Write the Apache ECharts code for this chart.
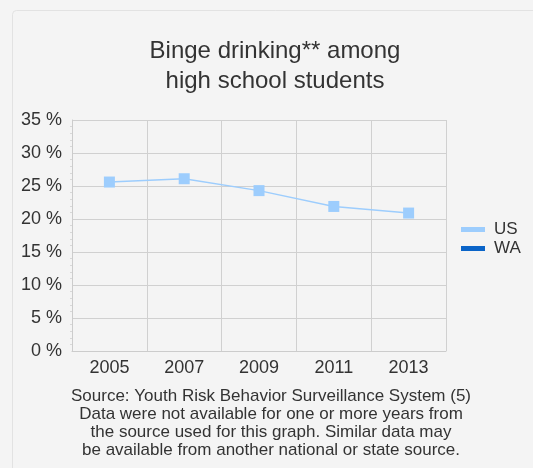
<!DOCTYPE html>
<html>
<head>
<meta charset="utf-8">
<script src="https://cdn.jsdelivr.net/npm/echarts@6/dist/echarts.min.js"></script>
<style>
  html, body { margin: 0; padding: 0; background: #f4f4f4; }
  #chart { width: 533px; height: 468px; }
</style>
</head>
<body>
<div id="chart"></div>
<script>
var years = ['2005', '2007', '2009', '2011', '2013'];
var usValues = [25.6, 26.1, 24.3, 21.9, 20.9];
var waValues = [null, null, null, null, null];
var sourceLines = [
  'Source: Youth Risk Behavior Surveillance System (5)',
  'Data were not available for one or more years from',
  'the source used for this graph. Similar data may',
  'be available from another national or state source.'
];

var font = 'Liberation Sans, Arial, sans-serif';
var chart = echarts.init(document.getElementById('chart'));
chart.setOption({
  backgroundColor: '#f4f4f4',
  textStyle: { fontFamily: font },
  graphic: [
    {
      type: 'rect',
      z: -10,
      shape: { x: 12.5, y: 10.5, width: 560, height: 500, r: 4 },
      style: { fill: '#f4f4f4', stroke: '#e2e2e2', lineWidth: 1 }
    }
  ],
  title: [
    {
      text: 'Binge drinking** among\nhigh school students',
      left: 270,
      textAlign: 'center',
      top: 31,
      textStyle: {
        fontSize: 24,
        fontWeight: 'normal',
        color: '#333',
        lineHeight: 30,
        fontFamily: font
      }
    },
    {
      text: sourceLines.join('\n'),
      left: 266,
      textAlign: 'center',
      top: 382,
      textStyle: {
        fontSize: 17,
        fontWeight: 'normal',
        color: '#333',
        lineHeight: 18,
        fontFamily: font
      }
    }
  ],
  legend: {
    orient: 'vertical',
    left: 456,
    top: 216,
    itemWidth: 24,
    itemHeight: 5,
    itemGap: 2,
    icon: 'rect',
    textStyle: { fontSize: 17, color: '#333', padding: [0, 0, 0, 4] },
    data: ['US', 'WA']
  },
  grid: { left: 72, top: 120, width: 374, height: 231, containLabel: false },
  xAxis: {
    type: 'category',
    data: years,
    boundaryGap: true,
    axisLine: { lineStyle: { color: '#cccccc' } },
    axisTick: { show: false },
    splitLine: { show: true, lineStyle: { color: '#d0d0d0', width: 1 } },
    axisLabel: { color: '#333', fontSize: 18, margin: 8 }
  },
  yAxis: {
    type: 'value',
    min: 0,
    max: 35,
    interval: 5,
    axisLine: { show: true, lineStyle: { color: '#cccccc' } },
    axisTick: { show: false },
    minorTick: { show: true, splitNumber: 5, length: 2, lineStyle: { color: '#d8d8d8' } },
    splitLine: { lineStyle: { color: '#d0d0d0', width: 1 } },
    axisLabel: { color: '#333', fontSize: 18, margin: 10, formatter: '{value} %' }
  },
  series: [
    {
      name: 'US',
      type: 'line',
      data: usValues,
      symbol: 'rect',
      symbolSize: 11,
      color: '#9dcdfd',
      lineStyle: { width: 1.5, color: '#9dcdfd' },
      itemStyle: { color: '#9dcdfd' }
    },
    {
      name: 'WA',
      type: 'line',
      data: waValues,
      color: '#0a64c8',
      itemStyle: { color: '#0a64c8' }
    }
  ]
});
</script>
</body>
</html>
